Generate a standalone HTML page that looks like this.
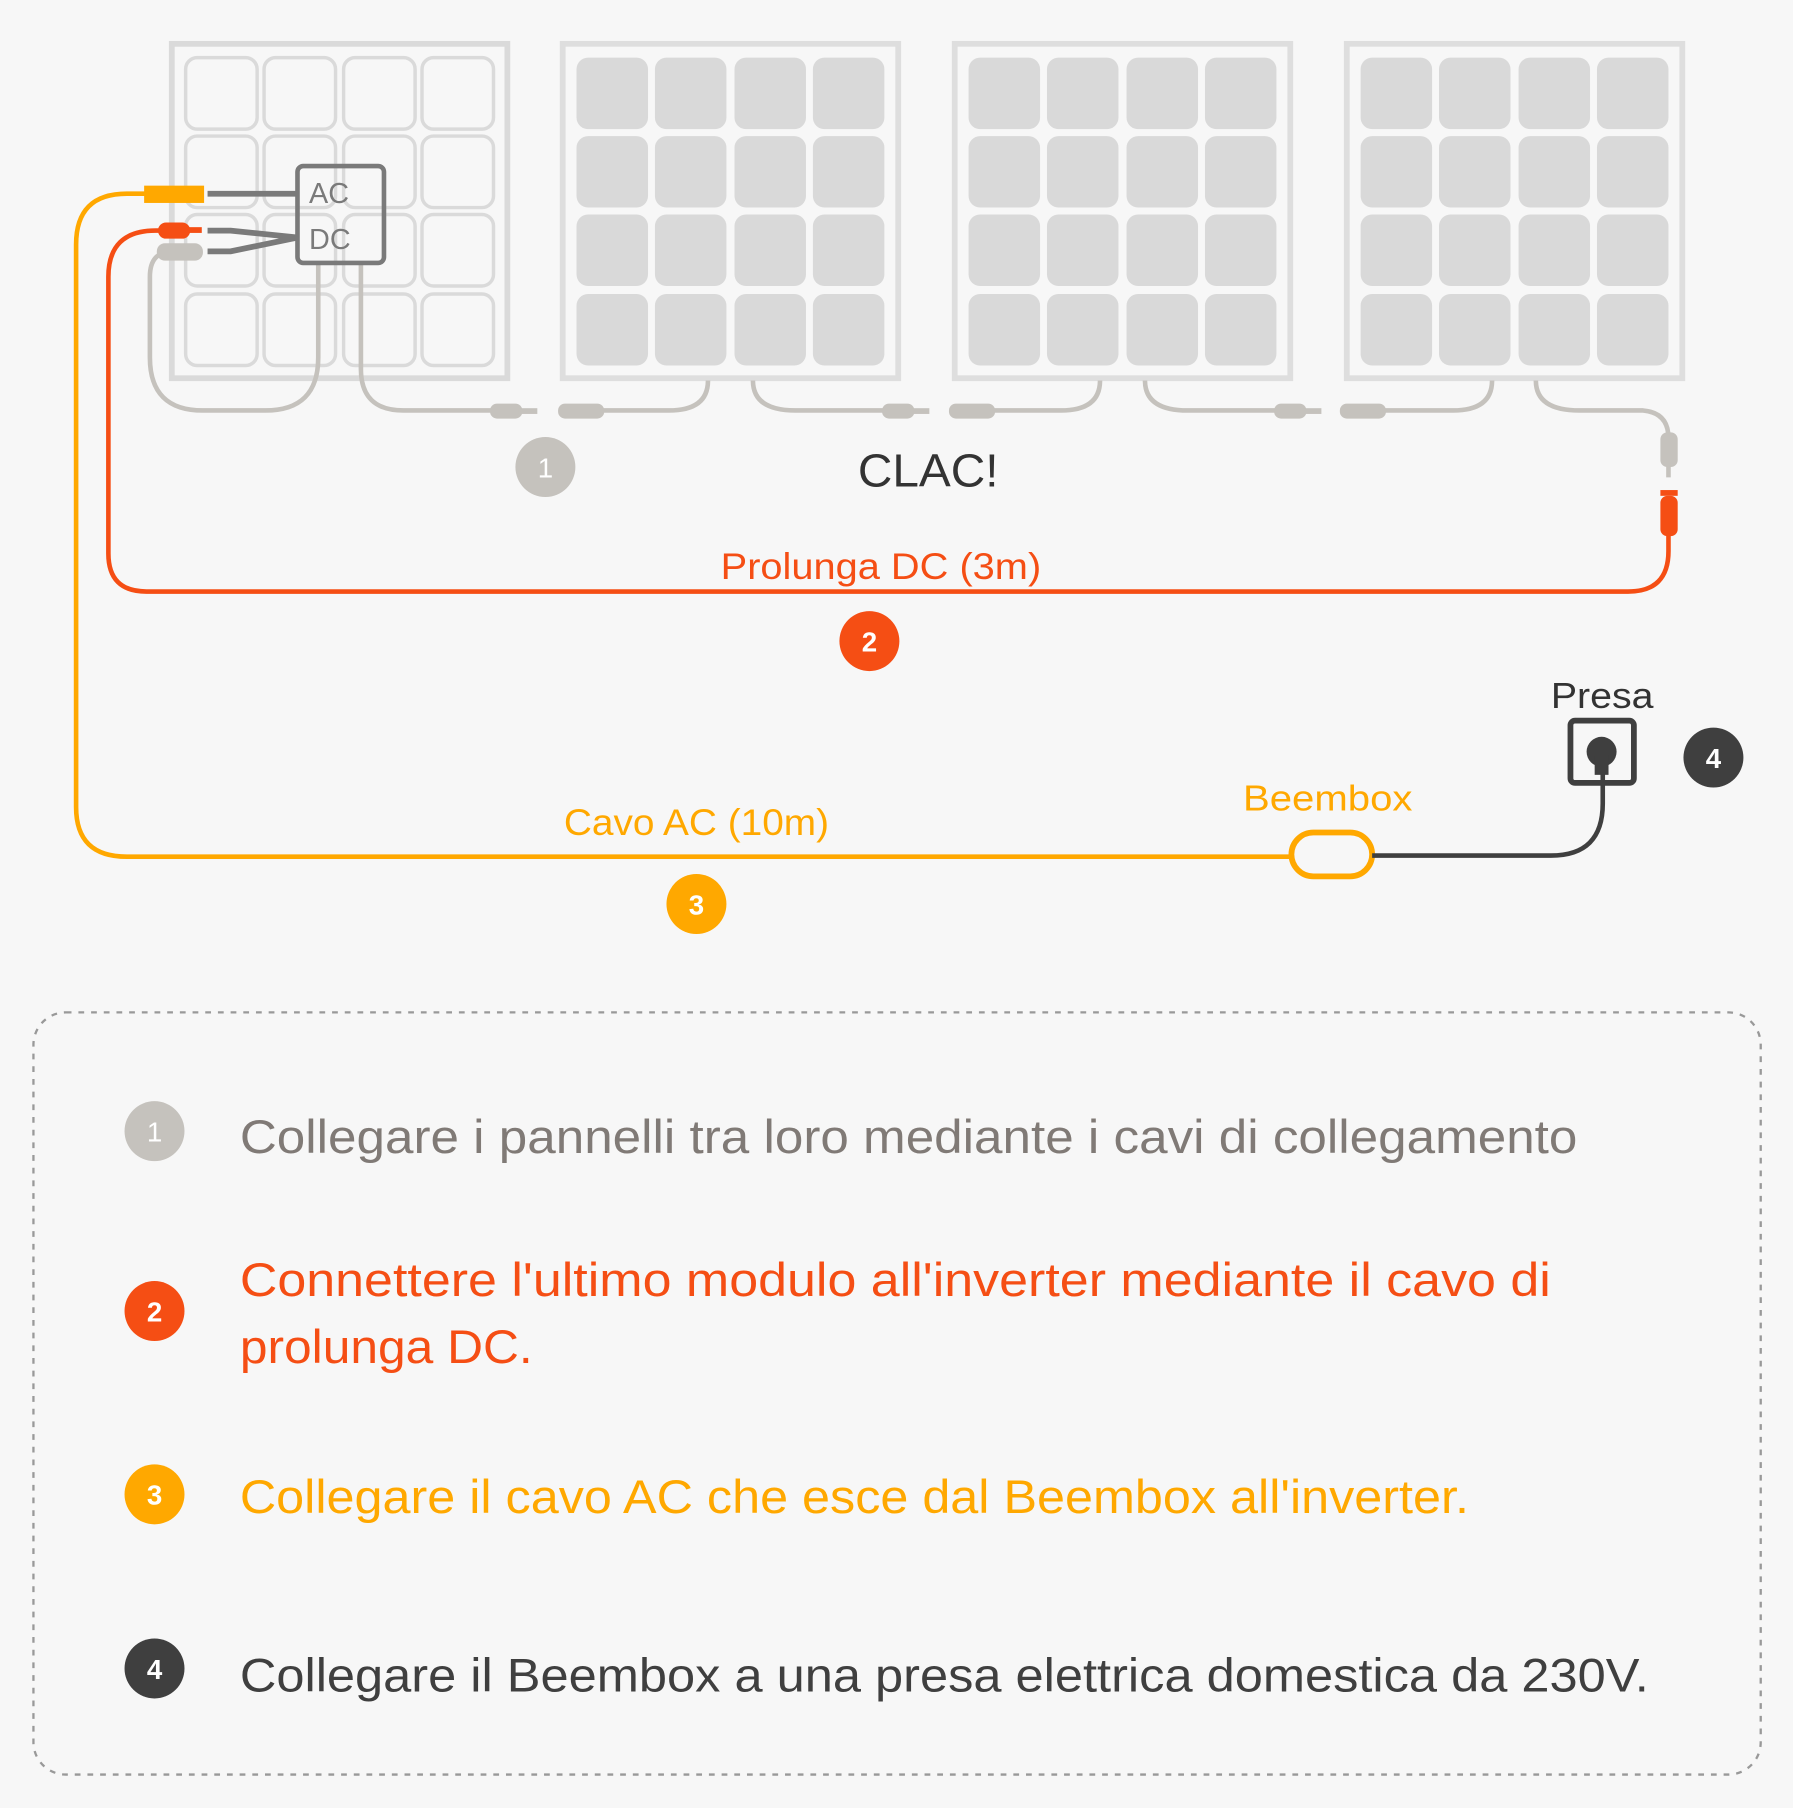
<!DOCTYPE html>
<html><head><meta charset="utf-8"><style>
html,body{margin:0;padding:0;background:#f7f7f7}
svg{display:block}
text{font-family:"Liberation Sans",sans-serif}
</style></head><body>
<svg width="1793" height="1808" viewBox="0 0 1555 1568" xmlns="http://www.w3.org/2000/svg">
<rect width="1555" height="1568" fill="#f7f7f7"/>
<defs>
<g id="cells">
<rect x="12" y="12" width="62" height="62" rx="10"/><rect x="80" y="12" width="62" height="62" rx="10"/><rect x="149" y="12" width="62" height="62" rx="10"/><rect x="217" y="12" width="62" height="62" rx="10"/>
<rect x="12" y="80" width="62" height="62" rx="10"/><rect x="80" y="80" width="62" height="62" rx="10"/><rect x="149" y="80" width="62" height="62" rx="10"/><rect x="217" y="80" width="62" height="62" rx="10"/>
<rect x="12" y="148" width="62" height="62" rx="10"/><rect x="80" y="148" width="62" height="62" rx="10"/><rect x="149" y="148" width="62" height="62" rx="10"/><rect x="217" y="148" width="62" height="62" rx="10"/>
<rect x="12" y="217" width="62" height="62" rx="10"/><rect x="80" y="217" width="62" height="62" rx="10"/><rect x="149" y="217" width="62" height="62" rx="10"/><rect x="217" y="217" width="62" height="62" rx="10"/>
</g>
</defs>
<g transform="translate(149,38)">
<rect x="0" y="0" width="291" height="290" fill="none" stroke="#dadada" stroke-width="5"/>
<g fill="none" stroke="#dadada" stroke-width="3"><use href="#cells"/></g>
</g>
<g transform="translate(488,38)"><rect x="0" y="0" width="291" height="290" fill="#f7f7f7" stroke="#dedede" stroke-width="5"/><g fill="#d9d9d9"><use href="#cells"/></g></g>
<g transform="translate(828,38)"><rect x="0" y="0" width="291" height="290" fill="#f7f7f7" stroke="#dedede" stroke-width="5"/><g fill="#d9d9d9"><use href="#cells"/></g></g>
<g transform="translate(1168,38)"><rect x="0" y="0" width="291" height="290" fill="#f7f7f7" stroke="#dedede" stroke-width="5"/><g fill="#d9d9d9"><use href="#cells"/></g></g>

<g fill="none" stroke="#c5c2bd" stroke-width="4">
<path d="M150 218 Q130 218 130 240 L130 310 Q130 356 176 356 L230 356 Q276 356 276 310 L276 228"/>
<path d="M313 228 L313 320 Q313 356 350 356 L440 356"/>
<path d="M500 356 L580 356 Q614 356 614 330"/>
<path d="M653 330 Q653 356 690 356 L780 356"/>
<path d="M840 356 L920 356 Q954 356 954 330"/>
<path d="M993 330 Q993 356 1030 356 L1120 356"/>
<path d="M1180 356 L1260 356 Q1294 356 1294 330"/>
<path d="M1332 330 Q1332 356 1370 356 L1425 356 Q1447 358 1447 380"/>
</g>
<g fill="#c5c2bd">
<rect x="425" y="350" width="28" height="13" rx="6"/><rect x="450" y="354" width="16" height="5"/>
<rect x="484" y="350" width="40" height="13" rx="6"/>
<rect x="765" y="350" width="28" height="13" rx="6"/><rect x="790" y="354" width="16" height="5"/>
<rect x="823" y="350" width="40" height="13" rx="6"/>
<rect x="1105" y="350" width="28" height="13" rx="6"/><rect x="1130" y="354" width="16" height="5"/>
<rect x="1162" y="350" width="40" height="13" rx="6"/>
<rect x="1440" y="375" width="15" height="30" rx="6"/><rect x="1445" y="400" width="4" height="14"/>
<rect x="136" y="211" width="40" height="15" rx="7"/>
</g>
<rect x="258" y="144" width="75" height="84" rx="5" fill="none" stroke="#7a7a7a" stroke-width="4"/>
<text x="268" y="176" font-size="25" fill="#7a7a7a">AC</text>
<text x="268" y="216" font-size="25" fill="#7a7a7a">DC</text>
<g fill="none" stroke="#7a7a7a" stroke-width="5">
<path d="M180 168 L258 168"/>
<path d="M180 200 L200 200 L258 206"/>
<path d="M180 218 L200 218 L258 206"/>
</g>
<path d="M130 168 L110 168 Q66 168 66 212 L66 700 Q66 743 110 743 L1122 743" fill="none" stroke="#ffa800" stroke-width="4"/>
<rect x="125" y="161" width="52" height="15" fill="#ffa800"/>
<rect x="1120" y="722" width="70" height="38" rx="19" fill="none" stroke="#ffa800" stroke-width="5"/>
<path d="M1190 742 L1345 742 Q1390 742 1390 697 L1390 670" fill="none" stroke="#3f3f3f" stroke-width="4"/>
<path d="M150 200 L135 200 Q94 200 94 240 L94 480 Q94 513 127 513 L1412 513 Q1447 513 1447 478 L1447 455" fill="none" stroke="#f54e14" stroke-width="4"/>
<rect x="137" y="193" width="28" height="14" rx="7" fill="#f54e14"/><rect x="160" y="197" width="15" height="5" fill="#f54e14"/>
<rect x="1440" y="430" width="15" height="35" rx="6" fill="#f54e14"/><rect x="1440" y="425" width="15" height="5" fill="#f54e14"/>
<rect x="1362" y="625" width="55" height="54" rx="4" fill="none" stroke="#3f3f3f" stroke-width="5"/>
<circle cx="1389" cy="652" r="13" fill="#3f3f3f"/><rect x="1383" y="655" width="12" height="17" fill="#3f3f3f"/>
<circle cx="473" cy="405" r="26" fill="#c5c2bd"/><text x="473" y="414" font-size="24" fill="#fff" text-anchor="middle">1</text>
<text x="744" y="422" font-size="40" fill="#333" textLength="122" lengthAdjust="spacingAndGlyphs">CLAC!</text>
<text x="625" y="502" font-size="32" fill="#f54e14" textLength="278" lengthAdjust="spacingAndGlyphs">Prolunga DC (3m)</text>
<circle cx="754" cy="556" r="26" fill="#f54e14"/><text x="754" y="565" font-size="24" font-weight="bold" fill="#fff" text-anchor="middle">2</text>
<text x="1345" y="614" font-size="31" fill="#333" textLength="89" lengthAdjust="spacingAndGlyphs">Presa</text>
<circle cx="1486" cy="657" r="26" fill="#3f3f3f"/><text x="1486" y="666" font-size="24" font-weight="bold" fill="#fff" text-anchor="middle">4</text>
<text x="1078" y="703" font-size="31" fill="#ffa800" textLength="147" lengthAdjust="spacingAndGlyphs">Beembox</text>
<text x="489" y="724" font-size="32" fill="#ffa800" textLength="230" lengthAdjust="spacingAndGlyphs">Cavo AC (10m)</text>
<circle cx="604" cy="784" r="26" fill="#ffa800"/><text x="604" y="793" font-size="24" font-weight="bold" fill="#fff" text-anchor="middle">3</text>
<rect x="29" y="878" width="1498" height="661" rx="28" fill="none" stroke="#999" stroke-width="2" stroke-dasharray="5 6"/>
<circle cx="134" cy="981" r="26" fill="#c5c2bd"/><text x="134" y="990" font-size="24" fill="#fff" text-anchor="middle">1</text>
<text x="208" y="1000" font-size="41" fill="#807a76" textLength="1160" lengthAdjust="spacingAndGlyphs">Collegare i pannelli tra loro mediante i cavi di collegamento</text>
<circle cx="134" cy="1137" r="26" fill="#f54e14"/><text x="134" y="1146" font-size="24" font-weight="bold" fill="#fff" text-anchor="middle">2</text>
<text x="208" y="1124" font-size="41" fill="#f54e14" textLength="1137" lengthAdjust="spacingAndGlyphs">Connettere l'ultimo modulo all'inverter mediante il cavo di</text>
<text x="208" y="1182" font-size="41" fill="#f54e14" textLength="254" lengthAdjust="spacingAndGlyphs">prolunga DC.</text>
<circle cx="134" cy="1296" r="26" fill="#ffa800"/><text x="134" y="1305" font-size="24" font-weight="bold" fill="#fff" text-anchor="middle">3</text>
<text x="208" y="1312" font-size="41" fill="#ffa800" textLength="1066" lengthAdjust="spacingAndGlyphs">Collegare il cavo AC che esce dal Beembox all'inverter.</text>
<circle cx="134" cy="1447" r="26" fill="#3f3f3f"/><text x="134" y="1456" font-size="24" font-weight="bold" fill="#fff" text-anchor="middle">4</text>
<text x="208" y="1467" font-size="41" fill="#3f3f3f" textLength="1222" lengthAdjust="spacingAndGlyphs">Collegare il Beembox a una presa elettrica domestica da 230V.</text>
</svg>
</body></html>
